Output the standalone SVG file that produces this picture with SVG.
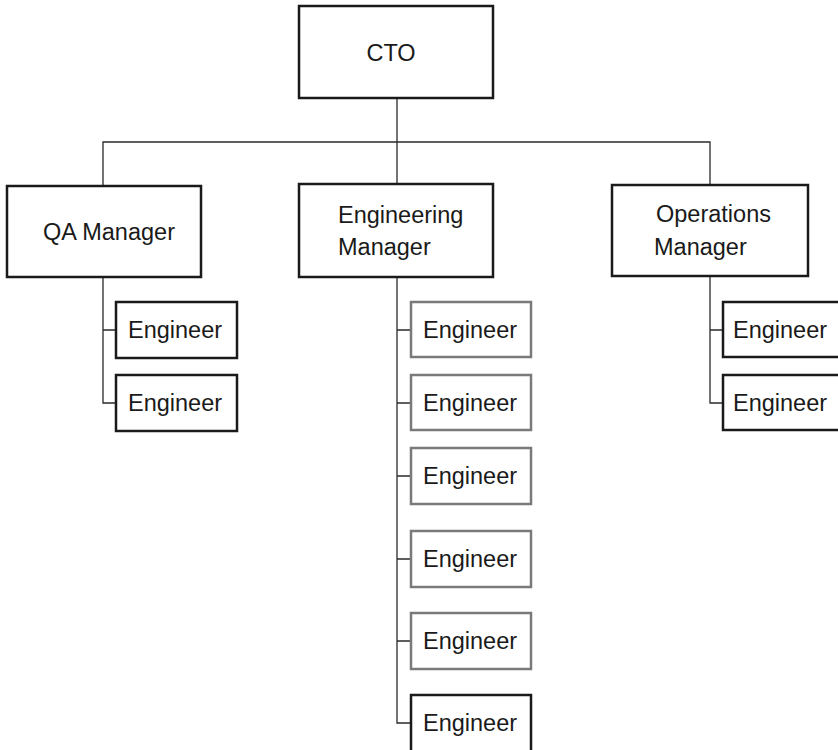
<svg xmlns="http://www.w3.org/2000/svg" width="838" height="750" viewBox="0 0 838 750">
<style>
.box{fill:#fff;stroke:#1a1a1a;stroke-width:2.5}
.gbox{fill:#fff;stroke:#7a7a7a;stroke-width:2.5}
.conn{fill:none;stroke:#2a2a2a;stroke-width:1.3}
text{font-family:"Liberation Sans",Arial,Helvetica,sans-serif;font-size:23.5px;fill:#1a1a1a}
</style>
<rect width="838" height="750" fill="#fff"/>
<g id="connectors">
<path class="conn" d="M397,98 V184 M103,186 V142 H710 V185"/>
<path class="conn" d="M103,277 V403 H116 M103,330 H116"/>
<path class="conn" d="M397,277 V723 H411 M397,330 H411 M397,403 H411 M397,476 H411 M397,559 H411 M397,641 H411"/>
<path class="conn" d="M710,276 V403 H723 M710,330 H723"/>
</g>
<g id="cto"><rect class="box" x="299" y="6" width="194" height="92"/><text x="391" y="61" text-anchor="middle">CTO</text></g>
<g id="qa-manager"><rect class="box" x="7" y="186" width="194" height="91"/><text x="109" y="240" text-anchor="middle">QA Manager</text></g>
<g id="eng-manager"><rect class="box" x="299" y="184" width="194" height="93"/><text x="338" y="223">Engineering</text><text x="338" y="255">Manager</text></g>
<g id="ops-manager"><rect class="box" x="612" y="185" width="196" height="91"/><text x="656" y="222">Operations</text><text x="654" y="255">Manager</text></g>
<g id="qa-eng-1"><rect class="box" x="116" y="302" width="121" height="56"/><text x="128" y="338">Engineer</text></g>
<g id="qa-eng-2"><rect class="box" x="116" y="375" width="121" height="56"/><text x="128" y="411">Engineer</text></g>
<g id="eng-eng-1"><rect class="gbox" x="411" y="302" width="120" height="55"/><text x="423" y="338">Engineer</text></g>
<g id="eng-eng-2"><rect class="gbox" x="411" y="375" width="120" height="55"/><text x="423" y="411">Engineer</text></g>
<g id="eng-eng-3"><rect class="gbox" x="411" y="448" width="120" height="56"/><text x="423" y="484">Engineer</text></g>
<g id="eng-eng-4"><rect class="gbox" x="411" y="531" width="120" height="56"/><text x="423" y="567">Engineer</text></g>
<g id="eng-eng-5"><rect class="gbox" x="411" y="613" width="120" height="56"/><text x="423" y="649">Engineer</text></g>
<g id="eng-eng-6"><rect class="box" x="411" y="695" width="120" height="70"/><text x="423" y="731">Engineer</text></g>
<g id="ops-eng-1"><rect class="box" x="723" y="302" width="130" height="55"/><text x="733" y="338">Engineer</text></g>
<g id="ops-eng-2"><rect class="box" x="723" y="375" width="130" height="55"/><text x="733" y="411">Engineer</text></g>
</svg>
